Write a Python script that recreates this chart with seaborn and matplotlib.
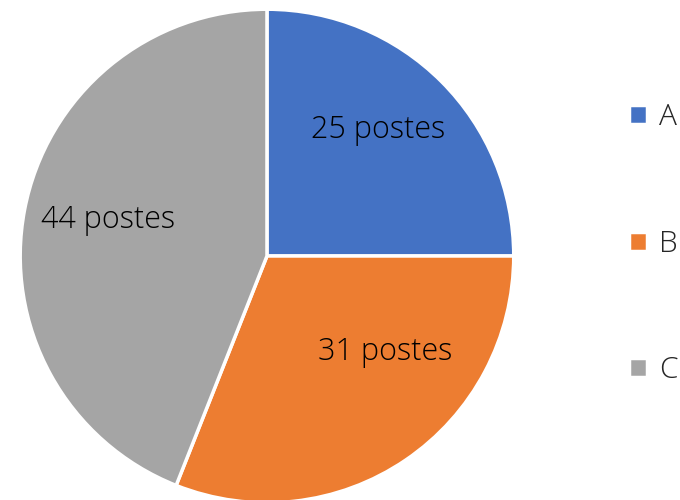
import matplotlib
matplotlib.use('Agg')
import matplotlib.pyplot as plt
import seaborn as sns

categories = ['A', 'B', 'C']
postes = [25, 31, 44]
colors = ['#4472C4', '#ED7D31', '#A5A5A5']

sns.set_theme(style='white')
plt.rcParams['font.family'] = ['Open Sans', 'DejaVu Sans']
plt.rcParams['font.weight'] = 'light'

fig = plt.figure(figsize=(6.8, 5), dpi=100)
ax = fig.add_axes([0.0279, -0.008, 0.7294, 0.992])

wedges, texts, autotexts = ax.pie(
    postes, colors=colors, startangle=90, counterclock=False,
    autopct=lambda p: f'{round(p * sum(postes) / 100):.0f} postes',
    pctdistance=0.67,
    wedgeprops=dict(edgecolor='white', linewidth=2.5),
    textprops=dict(fontsize=22, color='black', fontweight='light'))
# Excel-like label placement
autotexts[0].set_position((0.45, 0.51))
autotexts[1].set_position((0.48, -0.39))
autotexts[2].set_position((-0.645, 0.145))
ax.set_xlim(-1.005, 1.005)
ax.set_ylim(-1.005, 1.005)
ax.set_aspect('equal')

leg = fig.legend(wedges, categories, loc='center left',
                 bbox_to_anchor=(0.885, 0.512), frameon=False,
                 fontsize=21.5, handlelength=0.6, handleheight=0.6,
                 handletextpad=0.42, labelspacing=3.25)

fig.savefig('out.png', dpi=100, facecolor='white')
